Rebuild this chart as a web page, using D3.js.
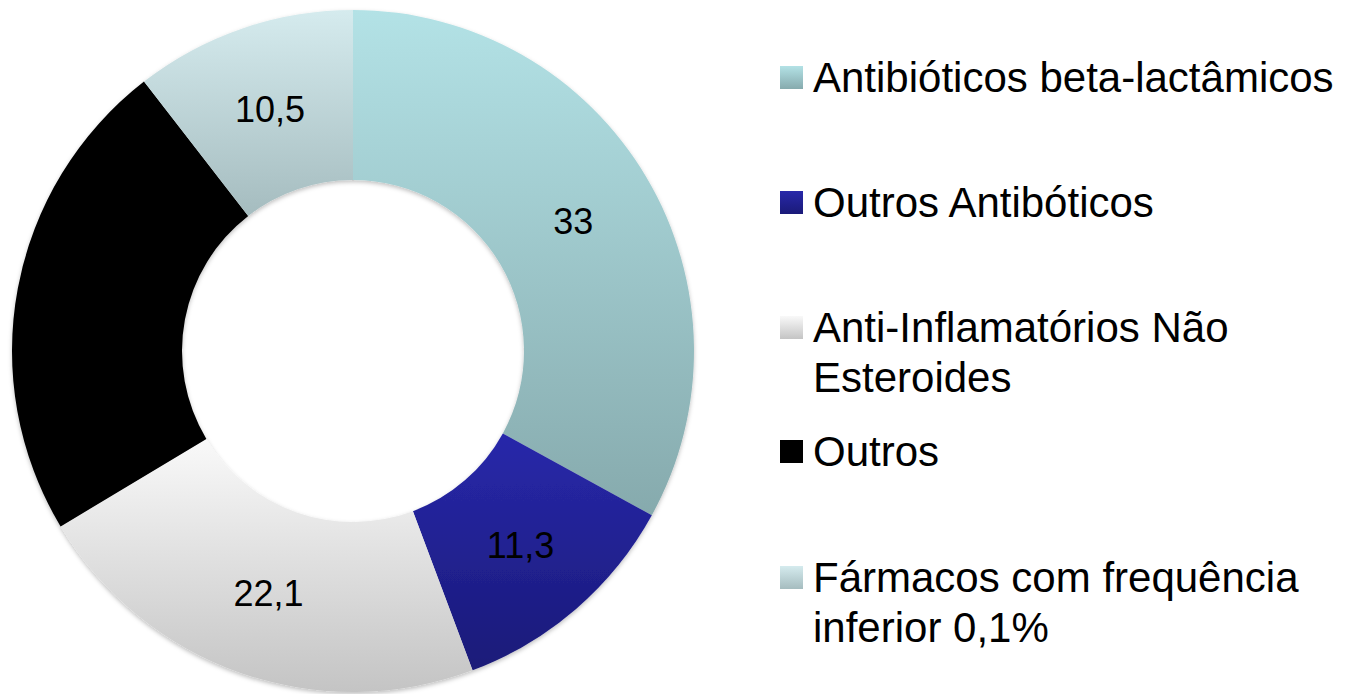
<!DOCTYPE html>
<html>
<head>
<meta charset="utf-8">
<script src="https://cdn.jsdelivr.net/npm/d3@7"></script>
<style>
  body { margin: 0; background: #fff; }
  text { font-family: "Liberation Sans", Arial, sans-serif; fill: #000; }
</style>
</head>
<body>
<script>
// data
const categories = [
  "Antibióticos beta-lactâmicos",
  "Outros Antibóticos",
  "Anti-Inflamatórios Não Esteroides",
  "Outros",
  "Fármacos com frequência inferior 0,1%"
];
const values = [33, 11.3, 22.1, 23.1, 10.5];
// legend text split into lines as in the picture
const legendLines = [
  ["Antibióticos beta-lactâmicos"],
  ["Outros Antibóticos"],
  ["Anti-Inflamatórios Não", "Esteroides"],
  ["Outros"],
  ["Fármacos com frequência", "inferior 0,1%"]
];
// gradient top / bottom colours per slice
const gradTop = ["#b3e2e6", "#2828aa", "#f9f9f9", "#000000", "#d5ebee"];
const gradBottom = ["#86aaad", "#1a1a78", "#c4c4c4", "#000000", "#a5bcbf"];

const W = 1348, H = 694;
const cx = 353, cy = 351, outerR = 341, innerR = 171;

const svg = d3.select("body").append("svg")
  .attr("width", W)
  .attr("height", H);

const defs = svg.append("defs");
categories.forEach((c, i) => {
  const g = defs.append("linearGradient")
    .attr("id", "grad" + i)
    .attr("x1", 0).attr("y1", 0).attr("x2", 0).attr("y2", 1);
  g.append("stop").attr("offset", "0%").attr("stop-color", gradTop[i]);
  g.append("stop").attr("offset", "100%").attr("stop-color", gradBottom[i]);
});
const shadow = defs.append("filter").attr("id", "shadow")
  .attr("x", "-10%").attr("y", "-10%").attr("width", "120%").attr("height", "120%");
shadow.append("feDropShadow")
  .attr("dx", 0).attr("dy", 2).attr("stdDeviation", 2)
  .attr("flood-color", "#000").attr("flood-opacity", 0.25);

const pie = d3.pie().sort(null).value(d => d);
const arcs = pie(values);
const arc = d3.arc().innerRadius(innerR).outerRadius(outerR);
const labelArc = d3.arc().innerRadius((innerR + outerR) / 2).outerRadius((innerR + outerR) / 2);

const chart = svg.append("g").attr("transform", "translate(" + cx + "," + cy + ")");

chart.append("g").attr("filter", "url(#shadow)")
  .selectAll("path")
  .data(arcs)
  .join("path")
  .attr("d", arc)
  .attr("fill", (d, i) => "url(#grad" + i + ")");

const fmt = v => String(v).replace(".", ",");

chart.selectAll("text.lbl")
  .data(arcs)
  .join("text")
  .attr("class", "lbl")
  .attr("transform", d => "translate(" + labelArc.centroid(d) + ")")
  .attr("text-anchor", "middle")
  .attr("dy", "0.36em")
  .style("font-size", "36px")
  .text(d => fmt(d.data));

// legend
const legX = 780, textX = 813, sw = 23, lineH = 50;
const baselines = [92, 217, 342, 466, 592];

const leg = svg.append("g");
legendLines.forEach((lines, i) => {
  leg.append("rect")
    .attr("x", legX)
    .attr("y", baselines[i] - sw - 3)
    .attr("width", sw)
    .attr("height", sw)
    .attr("fill", "url(#grad" + i + ")");
  const t = leg.append("text")
    .attr("x", textX)
    .attr("y", baselines[i])
    .style("font-size", "42px");
  lines.forEach((ln, j) => {
    t.append("tspan")
      .attr("x", textX)
      .attr("dy", j === 0 ? 0 : lineH)
      .text(ln);
  });
});
</script>
</body>
</html>
